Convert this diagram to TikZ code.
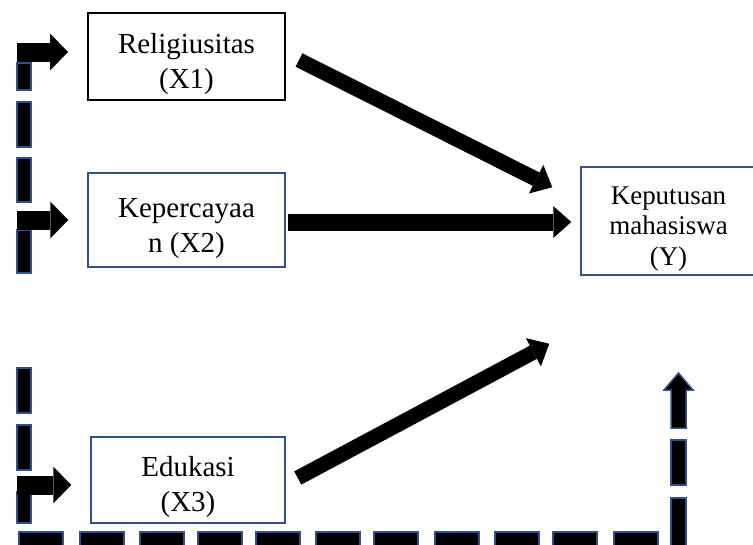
\documentclass[tikz,border=0pt]{standalone}
\usepackage{fontspec}
\setmainfont{Liberation Serif}
\usetikzlibrary{arrows.meta}
\definecolor{wordblue}{RGB}{47,82,143}
\tikzset{
  varbox/.style={draw=wordblue, line width=1.5pt, inner sep=0pt,
    minimum width=197pt, minimum height=90pt},
  boxtext/.style={align=center, inner sep=0pt, yshift=-8pt, font=\fontsize{29}{35}\selectfont},
  bigarrow/.style={line width=15pt, -{Triangle[width=32pt,length=18pt,line width=0pt]}},
  sidearrow/.style={line width=19pt, -{Triangle[width=37pt,length=18pt,line width=0pt]}, shorten >=19pt},
  dashbox/.style={fill=black, draw=wordblue, line width=1.5pt},
}
\begin{document}
\begin{tikzpicture}[x=1pt, y=-1pt]
          \useasboundingbox (0,0) rectangle (753,544);
          \node[varbox, draw=black, line width=2pt, minimum height=87pt,
                label={[boxtext]center:{Religiusitas\\(X1)}}] (x1) at (186.5,56.5) {};
          \node[varbox, minimum height=94pt,
                label={[boxtext, yshift=-1pt]center:{Kepercayaa\\n (X2)}}] (x2) at (186.5,220) {};
          \node[varbox, minimum width=194pt, minimum height=86pt,
                label={[boxtext, yshift=1pt]center:{Edukasi\\(X3)}}] (x3) at (188,480) {};
          \node[varbox, minimum width=175pt, minimum height=108pt,
                label={[boxtext, font=\fontsize{27}{30.5}\selectfont]center:{Keputusan\\mahasiswa\\(Y)}}] (y) at (668.5,221) {};

          \foreach \a/\b in {63/90, 102/147, 158/202, 230/273, 368/413, 425/470, 492/523}{
              \filldraw[dashbox] (17,\a) rectangle (31,\b);
          }
          \foreach \a in {19,80,140,198,256,316,374,435,495,553,614}{
              \filldraw[dashbox] (\a,532) rectangle (\a+44,547);
          }
          \foreach \a/\b in {440/485, 498/547}{
              \filldraw[dashbox] (671,\a) rectangle (686,\b);
          }
          \filldraw[dashbox] (671,428) -- (671,390) -- (664,390) -- (678.5,373) -- (693,390) -- (686,390) -- (686,428) -- cycle;

          \coordinate (s1) at (17,52);
          \coordinate (s2) at (17,220);
          \coordinate (s3) at (17,485);
          \draw[sidearrow] (s1) -- (s1 -| x1.west);
          \draw[sidearrow] (s2) -- (s2 -| x2.west);
          \draw[sidearrow] (s3) -- (s3 -| x3.west);

          \draw[bigarrow] ([shift={(13,3.5)}]x1.east) -- ([shift={(-28,21)}]y.north west);
          \draw[bigarrow, line width=17pt] ([shift={(2,2)}]x2.east) -- ([shift={(-9,1)}]y.west);
          \draw[bigarrow] ([shift={(12,-2)}]x3.east) -- ([shift={(-31,68)}]y.south west);
      \end{tikzpicture}
\end{document}
